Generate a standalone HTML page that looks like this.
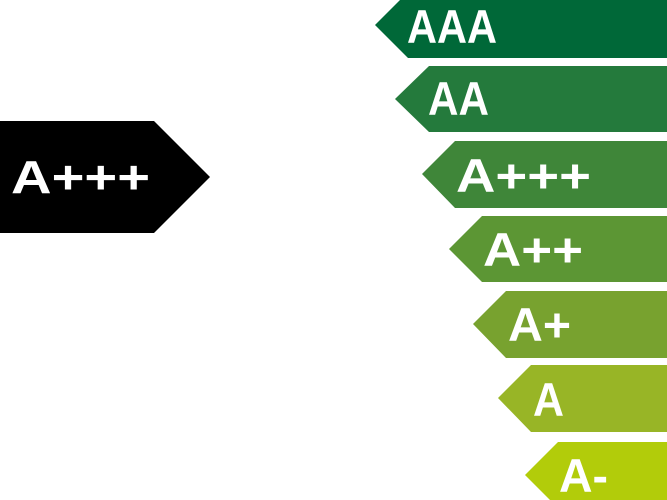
<!DOCTYPE html>
<html><head><meta charset="utf-8"><style>
html,body{margin:0;padding:0;background:#fff;}
svg{display:block;}
text{font-family:"Liberation Sans",sans-serif;font-weight:bold;fill:#fff;}
</style></head><body>
<svg width="667" height="500" viewBox="0 0 667 500" xmlns="http://www.w3.org/2000/svg">
<polygon points="0,121 154,121 210,177 154,233 0,233" fill="#000"/>
<text x="11" y="193" font-size="46" textLength="139" lengthAdjust="spacingAndGlyphs">A+++</text>

<polygon points="408,-8 667,-8 667,58 408,58 375,25" fill="#006838"/>
<text x="407" y="43" font-size="47" textLength="90" lengthAdjust="spacingAndGlyphs">AAA</text>

<polygon points="429,66 667,66 667,132 429,132 395,99" fill="#247a3c"/>
<text x="428" y="115" font-size="47" textLength="61" lengthAdjust="spacingAndGlyphs">AA</text>

<polygon points="455,141 667,141 667,208 455,208 422,174" fill="#3f8639"/>
<text x="456" y="192" font-size="47" textLength="135" lengthAdjust="spacingAndGlyphs">A+++</text>

<polygon points="482,216 667,216 667,282 482,282 449,249" fill="#5c9634"/>
<text x="483" y="266" font-size="47" textLength="100" lengthAdjust="spacingAndGlyphs">A++</text>

<polygon points="506,291 667,291 667,358 506,358 473,324" fill="#78a22f"/>
<text x="508" y="341" font-size="47" textLength="63" lengthAdjust="spacingAndGlyphs">A+</text>

<polygon points="531,365 667,365 667,432 531,432 498,398" fill="#98b526"/>
<text x="533" y="416" font-size="47" textLength="31" lengthAdjust="spacingAndGlyphs">A</text>

<polygon points="558,442 667,442 667,508 558,508 525,475" fill="#b2cc0a"/>
<text x="559" y="492" font-size="47" textLength="49" lengthAdjust="spacingAndGlyphs">A-</text>
</svg>
</body></html>
